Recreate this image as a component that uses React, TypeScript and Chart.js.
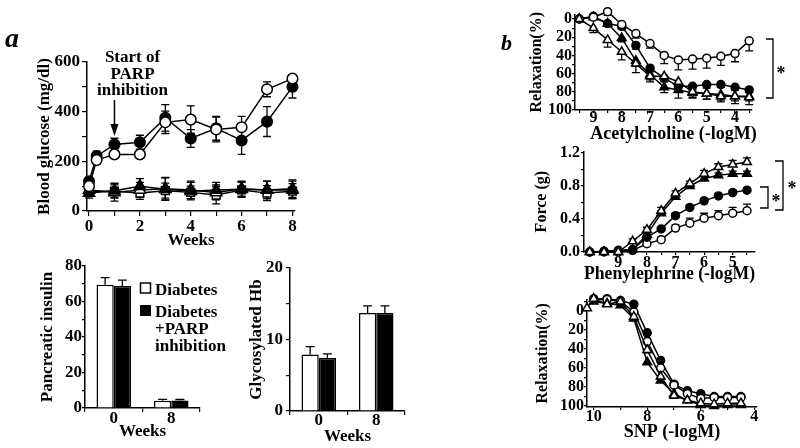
import React, { useEffect, useRef } from 'react';
import { Chart, registerables } from 'chart.js';
Chart.register(...registerables);

const SERIF = '"Liberation Serif", "Times New Roman", serif';
const W = 800;
const H = 448;

// ---------- panel a: blood glucose ----------
const weeks = [0, 0.3, 1, 2, 3, 4, 5, 6, 7, 8];
const glucoseDiabetes = [100, 205, 228, 228, 357, 368, 328, 337, 490, 533];
const glucoseDiabetesErr = [10, 15, 15, 12, 45, 55, 50, 44, 30, 12];
const glucoseParp = [120, 221, 268, 277, 375, 292, 333, 284, 360, 500];
const glucoseParpErr = [15, 20, 25, 28, 53, 36, 48, 56, 60, 45];
const controlWeeks = [0, 1, 2, 3, 4, 5, 6, 7, 8];
const glucoseControl = [85, 75, 85, 90, 85, 75, 90, 85, 90];
const glucoseControlErr = [25, 35, 30, 45, 35, 30, 30, 35, 35];
const glucoseControlParp = [72, 82, 100, 88, 80, 85, 88, 85, 85];
const glucoseControlParpErr = [20, 30, 30, 45, 35, 30, 30, 35, 35];
const glucoseControlB = [80, 80, 72, 82, 75, 64, 85, 72, 80];
const glucoseControlBErr = [20, 25, 25, 30, 25, 35, 30, 30, 30];

// ---------- panel a: bars ----------
const barWeeks = ['0', '8'];
const insulinDiabetes = [69.5, 4.1];
const insulinDiabetesErr = [3.9, 0.8];
const insulinParp = [68.7, 4.2];
const insulinParpErr = [3.3, 0.6];
const hbDiabetes = [7.9, 13.7];
const hbDiabetesErr = [1.1, 1.0];
const hbParp = [7.4, 13.7];
const hbParpErr = [0.6, 1.0];

// ---------- panel b: acetylcholine ----------
const achDose = [9.5, 9, 8.5, 8, 7.5, 7, 6.5, 6, 5.5, 5, 4.5, 4, 3.5];
const achOpenCircle = [0, -2, -8, 6, 16, 27, 40, 45, 44, 43, 41, 38, 24];
const achOpenCircleErr = [0, 0, 4, 4, 5, 5, 9, 11, 11, 11, 10, 9, 11];
const achFilledCircle = [0, -3, 5, 8, 29, 54, 65, 74, 74, 72, 72, 75, 78];
const achFilledCircleErr = [0, 0, 3, 3, 4, 4, 4, 4, 4, 4, 3, 3, 3];
const achFilledTri = [0, -2, 5, 21, 46, 61, 75, 78, 81, 82, 83, 85, 85];
const achFilledTriErr = [0, 0, 3, 4, 6, 6, 6, 9, 6, 6, 6, 5, 5];
const achOpenTri = [0, 10, 23, 36, 49, 63, 63, 69, 80, 82, 85, 85, 86];
const achOpenTriErr = [0, 5, 8, 9, 10, 6, 5, 5, 6, 6, 6, 8, 8];

// ---------- panel b: phenylephrine ----------
const peDose = [10, 9.5, 9, 8.5, 8, 7.5, 7, 6.5, 6, 5.5, 5, 4.5];
const peOpenTri = [0, 0, 0, 0.13, 0.27, 0.5, 0.71, 0.83, 0.95, 1.03, 1.06, 1.09];
const peOpenTriErr = [0, 0, 0, 0.03, 0.03, 0.04, 0.03, 0.03, 0.04, 0.04, 0.05, 0.05];
const peFilledTri = [0, 0, 0, 0.03, 0.21, 0.47, 0.67, 0.8, 0.89, 0.93, 0.95, 0.95];
const peFilledTriErr = [0, 0, 0, 0, 0.02, 0.03, 0.03, 0.03, 0.03, 0.03, 0.03, 0.03];
const peFilledCircle = [0, 0.01, 0.02, 0.03, 0.18, 0.28, 0.44, 0.54, 0.62, 0.68, 0.72, 0.75];
const peFilledCircleErr = [0, 0, 0, 0, 0.02, 0.02, 0.03, 0.03, 0.03, 0.03, 0.03, 0.03];
const peOpenCircle = [0, 0, 0, 0.02, 0.1, 0.15, 0.29, 0.35, 0.41, 0.44, 0.47, 0.5];
const peOpenCircleErr = [0, 0, 0, 0, 0.02, 0.03, 0.04, 0.06, 0.06, 0.06, 0.07, 0.08];

// ---------- panel b: SNP ----------
const snpDose = [10, 9.5, 9, 8.5, 8, 7.5, 7, 6.5, 6, 5.5, 5, 4.5];
const snpOpenTriDose = [10.25, 10, 9.5, 9, 8.5, 8, 7.5, 7, 6.5, 6, 5.5, 5, 4.5];
const snpOpenTri = [-3, -13, -7, -10, 6, 41, 69, 89, 94, 97, 98, 97, 97];
const snpOpenTriErr = [0, 0, 0, 0, 2, 3, 3, 3, 2, 2, 3, 2, 2];
const snpFilledTri = [-10, -8, -6, 8, 54, 73, 87, 94, 99, 100, 99, 99];
const snpFilledCircle = [-13, -13, -11, -7, 23, 52, 77, 84, 87, 90, 90, 90];
const snpOpenCircle = [-12, -12, -10, 1, 32, 60, 78, 87, 92, 91, 91, 91];

type Area = { left: number; top: number; right: number; bottom: number };

function frame(area: Area, yLeft: number, xBottom: number) {
  const zero = (s: any) => {
    s.paddingLeft = 0;
    s.paddingRight = 0;
    s.paddingTop = 0;
    s.paddingBottom = 0;
  };
  return {
    layout: { padding: { left: yLeft, top: area.top, right: W - area.right, bottom: H - xBottom } },
    fitY: (s: any) => {
      s.width = area.left - yLeft;
      zero(s);
    },
    fitX: (s: any) => {
      s.height = xBottom - area.bottom;
      zero(s);
    },
  };
}

const fmtInt = (v: number) => String(Math.round(v));
const fmt1 = (v: number) => v.toFixed(1);
const every = (m: number, f: (v: number) => string, maxLabel = Infinity) => (v: number) =>
  Math.abs(v / m - Math.round(v / m)) < 1e-6 && v <= maxLabel + 1e-6 ? f(v) : '';

function axis(o: any) {
  const grid: any = {
    display: true,
    drawOnChartArea: false,
    drawTicks: true,
    tickLength: o.tickLen,
    color: '#000',
    lineWidth: 1.2,
  };
  if (o.offset !== undefined) grid.offset = o.offset;
  const ticks: any = {
    autoSkip: false,
    maxRotation: 0,
    minRotation: 0,
    includeBounds: false,
    padding: o.pad,
    color: '#000',
    font: { family: SERIF, size: o.fontSize, weight: 'bold', lineHeight: 1 },
  };
  if (o.step !== undefined) ticks.stepSize = o.step;
  if (o.label) ticks.callback = (v: any) => o.label(Number(v));
  const s: any = {
    type: o.type ?? 'linear',
    reverse: !!o.reverse,
    afterFit: o.afterFit,
    border: { display: true, color: '#000', width: 1.5 },
    grid,
    ticks,
    title: {
      display: !!o.title,
      text: o.title ?? '',
      color: '#000',
      padding: 0,
      font: { family: SERIF, size: o.titleSize ?? 16, weight: 'bold', lineHeight: 1.2 },
    },
  };
  if (o.min !== undefined) s.min = o.min;
  if (o.max !== undefined) s.max = o.max;
  return s;
}

function base(layout: any, scales: any) {
  return {
    responsive: false,
    animation: false,
    devicePixelRatio: 1,
    events: [],
    layout,
    plugins: { legend: { display: false }, tooltip: { enabled: false }, title: { display: false } },
    scales,
  };
}

function series(xs: number[], ys: number[], errs: number[] | null, filled: boolean, style: string, r: number, dir: string) {
  return {
    data: xs.map((x, i) => ({ x, y: ys[i] })),
    showLine: true,
    borderColor: '#000',
    borderWidth: 1.5,
    pointStyle: style,
    pointRadius: r,
    pointHoverRadius: r,
    pointBackgroundColor: filled ? '#000' : '#fff',
    pointBorderColor: '#000',
    pointBorderWidth: 1.5,
    clip: false,
    errors: errs,
    errDir: dir,
  };
}

function errorBars(cap: number) {
  return {
    id: 'errbars',
    beforeDatasetsDraw(chart: any) {
      const ctx = chart.ctx;
      chart.data.datasets.forEach((ds: any, i: number) => {
        const errs: number[] | null = ds.errors;
        if (!errs) return;
        const meta = chart.getDatasetMeta(i);
        const ys = chart.scales[meta.yAxisID];
        ctx.save();
        ctx.strokeStyle = '#000';
        ctx.lineWidth = 1.3;
        meta.data.forEach((el: any, j: number) => {
          const e = errs[j];
          if (!e) return;
          const raw = ds.data[j];
          const v = typeof raw === 'number' ? raw : raw.y;
          const x = el.x;
          const y0 = ys.getPixelForValue(v);
          const dirs = ds.errDir === 'both' ? [1, -1] : ds.errDir === 'minus' ? [-1] : [1];
          dirs.forEach((d) => {
            const y1 = ys.getPixelForValue(v + d * e);
            ctx.beginPath();
            ctx.moveTo(x, y0);
            ctx.lineTo(x, y1);
            ctx.moveTo(x - cap, y1);
            ctx.lineTo(x + cap, y1);
            ctx.stroke();
          });
        });
        ctx.restore();
      });
    },
  };
}

function text(ctx: any, s: string, x: number, y: number, font: string, align = 'left', baseline = 'alphabetic') {
  ctx.save();
  ctx.fillStyle = '#000';
  ctx.font = font;
  ctx.textAlign = align;
  ctx.textBaseline = baseline;
  ctx.fillText(s, x, y);
  ctx.restore();
}

function bracket(ctx: any, x: number, y1: number, y2: number, arm: number) {
  ctx.save();
  ctx.strokeStyle = '#000';
  ctx.lineWidth = 1.3;
  ctx.beginPath();
  ctx.moveTo(x - arm, y1);
  ctx.lineTo(x, y1);
  ctx.lineTo(x, y2);
  ctx.lineTo(x - arm, y2);
  ctx.stroke();
  ctx.restore();
}

const B17 = `bold 17px ${SERIF}`;

const glucoseDeco = {
  id: 'glucoseDeco',
  afterDraw(chart: any) {
    const ctx = chart.ctx;
    text(ctx, 'a', 5, 46.5, `italic bold 28px ${SERIF}`);
    text(ctx, 'Start of', 132.5, 62, B17, 'center');
    text(ctx, 'PARP', 132.5, 79, B17, 'center');
    text(ctx, 'inhibition', 132.5, 95, B17, 'center');
    const x = chart.scales.x.getPixelForValue(1);
    ctx.save();
    ctx.strokeStyle = '#000';
    ctx.fillStyle = '#000';
    ctx.lineWidth = 1.5;
    ctx.beginPath();
    ctx.moveTo(x, 100);
    ctx.lineTo(x, 126);
    ctx.stroke();
    ctx.beginPath();
    ctx.moveTo(x - 4, 124);
    ctx.lineTo(x + 4, 124);
    ctx.lineTo(x, 136);
    ctx.closePath();
    ctx.fill();
    ctx.restore();
  },
};

const insulinDeco = {
  id: 'insulinDeco',
  afterDraw(chart: any) {
    const ctx = chart.ctx;
    ctx.save();
    ctx.fillStyle = '#fff';
    ctx.strokeStyle = '#000';
    ctx.lineWidth = 1.5;
    ctx.fillRect(140.5, 283, 10, 10);
    ctx.strokeRect(140.5, 283, 10, 10);
    ctx.fillStyle = '#000';
    ctx.fillRect(140, 305, 11, 11);
    ctx.restore();
    text(ctx, 'Diabetes', 155, 295, B17);
    text(ctx, 'Diabetes', 155, 317, B17);
    text(ctx, '+PARP', 155, 334, B17);
    text(ctx, 'inhibition', 155, 351, B17);
  },
};

const achDeco = {
  id: 'achDeco',
  afterDraw(chart: any) {
    const ctx = chart.ctx;
    text(ctx, 'b', 501, 50, `italic bold 22px ${SERIF}`);
    text(ctx, 'Acetylcholine (-logM)', 673.5, 134, `bold 18px ${SERIF}`, 'center', 'middle');
    bracket(ctx, 773, 39, 98, 7);
    text(ctx, '*', 781, 78.6, `bold 18px ${SERIF}`, 'center');
  },
};

const forceDeco = {
  id: 'forceDeco',
  afterDraw(chart: any) {
    const ctx = chart.ctx;
    bracket(ctx, 768, 187, 208, 8);
    text(ctx, '*', 776, 206.6, `bold 18px ${SERIF}`, 'center');
    bracket(ctx, 783, 161, 210, 8);
    text(ctx, '*', 792, 193.6, `bold 18px ${SERIF}`, 'center');
  },
};

function glucoseConfig() {
  const f = frame({ left: 87, top: 62, right: 295, bottom: 211 }, 34.8, 251.2);
  return {
    type: 'scatter',
    data: {
      datasets: [
        series(weeks, glucoseDiabetes, glucoseDiabetesErr, false, 'circle', 5.3, 'both'),
        series(weeks, glucoseParp, glucoseParpErr, true, 'circle', 5.3, 'both'),
        series(controlWeeks, glucoseControlParp, glucoseControlParpErr, true, 'triangle', 6.5, 'both'),
        series(controlWeeks, glucoseControl, glucoseControlErr, false, 'triangle', 6.5, 'both'),
        series(controlWeeks, glucoseControlB, glucoseControlBErr, false, 'rect', 5.5, 'both'),
      ],
    },
    options: base(f.layout, {
      x: axis({ min: -0.08, max: 8.1, step: 1, label: every(2, fmtInt), fontSize: 17, tickLen: 5, pad: 2, title: 'Weeks', titleSize: 17, afterFit: f.fitX }),
      y: axis({ min: 0, max: 600, step: 100, label: every(200, fmtInt), fontSize: 17, tickLen: 5, pad: 2, title: 'Blood glucose (mg/dl)', titleSize: 17, afterFit: f.fitY }),
    }),
    plugins: [errorBars(4), glucoseDeco],
  };
}

function barConfig(area: Area, yLeft: number, xBottom: number, open: number[], openErr: number[], filled: number[], filledErr: number[], yMax: number, yStep: number, yLabelStep: number, yTitle: string, yTick: number, yPad: number, xPad: number, deco: any) {
  const f = frame(area, yLeft, xBottom);
  const plugins: any[] = [errorBars(4.5)];
  if (deco) plugins.push(deco);
  return {
    type: 'bar',
    data: {
      labels: barWeeks,
      datasets: [
        { data: open, backgroundColor: '#fff', borderColor: '#000', borderWidth: 1.5, categoryPercentage: 0.6, barPercentage: 1, errors: openErr, errDir: 'plus' },
        { data: filled, backgroundColor: '#000', borderColor: '#000', borderWidth: 1.5, categoryPercentage: 0.6, barPercentage: 1, errors: filledErr, errDir: 'plus' },
      ],
    },
    options: base(f.layout, {
      x: axis({ type: 'category', offset: true, fontSize: 17, tickLen: 4, pad: xPad, title: 'Weeks', titleSize: 17, afterFit: f.fitX }),
      y: axis({ min: 0, max: yMax, step: yStep, label: every(yLabelStep, fmtInt), fontSize: 17, tickLen: yTick, pad: yPad, title: yTitle, titleSize: 17, afterFit: f.fitY }),
    }),
    plugins,
  };
}

function achConfig() {
  const f = frame({ left: 575, top: 14.45, right: 752, bottom: 110 }, 527.4, 144.8);
  return {
    type: 'scatter',
    data: {
      datasets: [
        series(achDose, achOpenTri, achOpenTriErr, false, 'triangle', 5, 'plus'),
        series(achDose, achOpenCircle, achOpenCircleErr, false, 'circle', 4, 'plus'),
        series(achDose, achFilledTri, achFilledTriErr, true, 'triangle', 5, 'plus'),
        series(achDose, achFilledCircle, achFilledCircleErr, true, 'circle', 4, 'plus'),
      ],
    },
    options: base(f.layout, {
      x: axis({ min: 3.4, max: 9.65, reverse: true, step: 0.5, label: every(1, fmtInt), fontSize: 16, tickLen: 3, pad: -3, afterFit: f.fitX }),
      y: axis({ min: -5, max: 100, reverse: true, step: 10, label: every(20, fmtInt), fontSize: 16, tickLen: 3, pad: 0, title: 'Relaxation(%)', titleSize: 16, afterFit: f.fitY }),
    }),
    plugins: [errorBars(4), achDeco],
  };
}

function forceConfig() {
  const f = frame({ left: 584, top: 151.35, right: 755, bottom: 252 }, 532.4, 284.8);
  return {
    type: 'scatter',
    data: {
      datasets: [
        series(peDose, peOpenTri, peOpenTriErr, false, 'triangle', 5, 'plus'),
        series(peDose, peFilledTri, peFilledTriErr, true, 'triangle', 5, 'plus'),
        series(peDose, peFilledCircle, peFilledCircleErr, true, 'circle', 4, 'plus'),
        series(peDose, peOpenCircle, peOpenCircleErr, false, 'circle', 4, 'plus'),
      ],
    },
    options: base(f.layout, {
      x: axis({ min: 4.22, max: 10.2, reverse: true, step: 0.5, label: every(1, fmtInt, 9), fontSize: 16, tickLen: 3, pad: 0, title: 'Phenylephrine (-logM)', titleSize: 18, afterFit: f.fitX }),
      y: axis({ min: 0, max: 1.22, step: 0.2, label: every(0.4, fmt1), fontSize: 16, tickLen: 3, pad: 1, title: 'Force (g)', titleSize: 16, afterFit: f.fitY }),
    }),
    plugins: [errorBars(4), forceDeco],
  };
}

function snpConfig() {
  const f = frame({ left: 587, top: 299.6, right: 757, bottom: 407 }, 533.4, 442.8);
  return {
    type: 'scatter',
    data: {
      datasets: [
        series(snpOpenTriDose, snpOpenTri, snpOpenTriErr, false, 'triangle', 5, 'plus'),
        series(snpDose, snpFilledTri, null, true, 'triangle', 5, 'plus'),
        series(snpDose, snpOpenCircle, null, false, 'circle', 4, 'plus'),
        series(snpDose, snpFilledCircle, null, true, 'circle', 4, 'plus'),
      ],
    },
    options: base(f.layout, {
      x: axis({ min: 3.9, max: 10.25, reverse: true, step: 1, label: every(2, fmtInt), fontSize: 16, tickLen: 3, pad: -1, title: 'SNP (-logM)', titleSize: 18, afterFit: f.fitX }),
      y: axis({ min: -12, max: 101, reverse: true, step: 10, label: every(20, fmtInt), fontSize: 16, tickLen: 3, pad: 0, title: 'Relaxation(%)', titleSize: 16, afterFit: f.fitY }),
    }),
    plugins: [errorBars(4)],
  };
}

const builders = [
  glucoseConfig,
  () => barConfig({ left: 85, top: 266, right: 200, bottom: 408 }, 37.8, 442.2, insulinDiabetes, insulinDiabetesErr, insulinParp, insulinParpErr, 80, 10, 20, 'Pancreatic insulin', 3, 0, -1.5, insulinDeco),
  () => barConfig({ left: 290, top: 268, right: 405, bottom: 411 }, 246.8, 447.2, hbDiabetes, hbDiabetesErr, hbParp, hbParpErr, 20, 5, 10, 'Glycosylated Hb', 4, 3, -2.5, null),
  achConfig,
  forceConfig,
  snpConfig,
];

export default function App() {
  const refs = useRef<(HTMLCanvasElement | null)[]>([]);
  useEffect(() => {
    const charts = builders.map((b, i) => new Chart(refs.current[i] as HTMLCanvasElement, b() as any));
    return () => charts.forEach((c) => c.destroy());
  }, []);
  return (
    <div style={{ position: 'fixed', left: 0, top: 0, width: W, height: H, background: '#fff', overflow: 'hidden' }}>
      {builders.map((_, i) => (
        <canvas
          key={i}
          ref={(el) => {
            refs.current[i] = el;
          }}
          width={W}
          height={H}
          style={{ position: 'absolute', left: 0, top: 0, width: W, height: H }}
        />
      ))}
    </div>
  );
}
